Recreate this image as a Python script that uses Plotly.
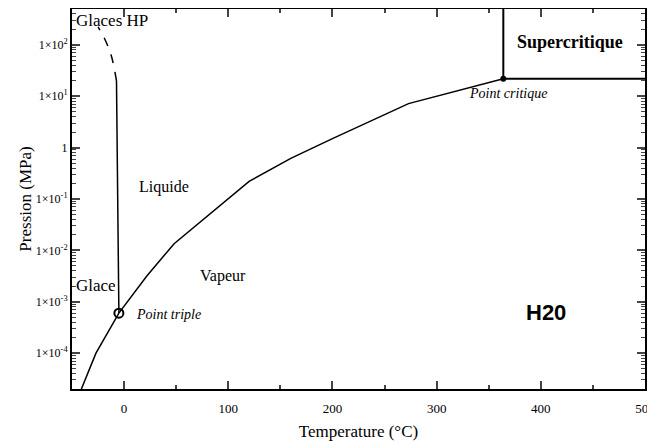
import plotly.graph_objects as go
import numpy as np

# Sublimation + vaporisation curve (°C, MPa)
curve_T = [-41, -27, -5, 22, 48, 120, 160, 200, 273, 364]
curve_P = [2e-5, 1e-4, 6e-4, 3.2e-3, 1.35e-2, 0.22, 0.62, 1.5, 7.2, 22]

# Melting line (solid) and high-pressure ices (dashed)
melt_T = [-5, -7.3]
melt_P = [6e-4, 20]
hp_T = [-7.3, -12.4, -18.8, -25]
hp_P = [20, 63, 133, 225]

# Supercritical box
super_v_T = [364, 364]
super_v_P = [22, 500]
super_h_T = [364, 500]
super_h_P = [22, 22]

triple_T, triple_P = [-5], [6e-4]
crit_T, crit_P = [364], [22]

ytick_vals = [1e-4, 1e-3, 1e-2, 1e-1, 1, 1e1, 1e2]
ytick_text = ["1×10<sup>-4</sup>", "1×10<sup>-3</sup>", "1×10<sup>-2</sup>",
              "1×10<sup>-1</sup>", "1", "1×10<sup>1</sup>", "1×10<sup>2</sup>"]
yminor_vals = [m * 10.0 ** e for e in range(-5, 3) for m in range(2, 10)]
xtick_vals = [0, 100, 200, 300, 400, 500]
xminor_vals = [-50, 50, 150, 250, 350, 450]

SERIF = "Liberation Serif, DejaVu Serif, serif"
line = dict(color="black", width=1.5)
YR = [np.log10(2e-5), np.log10(500)]
XR = [-50, 500]

fig = go.Figure()
fig.add_trace(go.Scatter(x=curve_T, y=curve_P, mode="lines", line=line))
fig.add_trace(go.Scatter(x=melt_T, y=melt_P, mode="lines", line=line))
fig.add_trace(go.Scatter(x=hp_T, y=hp_P, mode="lines",
                         line=dict(color="black", width=1.5, dash="dash", shape="spline")))
fig.add_trace(go.Scatter(x=super_v_T, y=super_v_P, mode="lines", line=dict(color="black", width=2)))
fig.add_trace(go.Scatter(x=super_h_T, y=super_h_P, mode="lines", line=dict(color="black", width=2)))
fig.add_trace(go.Scatter(x=triple_T, y=triple_P, mode="markers",
                         marker=dict(symbol="circle-open", size=9, color="black", line=dict(width=2))))
fig.add_trace(go.Scatter(x=crit_T, y=crit_P, mode="markers",
                         marker=dict(symbol="circle", size=6, color="black")))

def ann(text, x, y, size=14, anchor="center", bold=False, italic=False, family=SERIF):
    if bold:
        text = "<b>" + text + "</b>"
    if italic:
        text = "<i>" + text + "</i>"
    fig.add_annotation(x=x, y=y, xref="x", yref="y", text=text, showarrow=False,
                       xanchor=anchor, yanchor="middle",
                       font=dict(family=family, size=size, color="black"))

ann("Glaces HP", -48, 2.476, size=17, anchor="left")
ann("Liquide", 38, -0.76, size=16)
ann("Vapeur", 95, -2.495, size=16)
ann("Glace", -48.5, -2.69, size=17, anchor="left")
ann("Point triple", 9.5, -3.24, size=14, anchor="left", italic=True)
ann("Point critique", 368.6, 1.05, size=14, italic=True)
ann("Supercritique", 427.6, 2.05, size=18, bold=True)
ann("H20", 404.8, -3.2, size=22, bold=True, family="Liberation Sans")

# the page body has an 8px margin, so the figure is sized to fit the 655x441 window
fig.update_layout(
    width=647, height=433,
    margin=dict(l=64, r=10, t=1, b=52),
    paper_bgcolor="white", plot_bgcolor="white",
    showlegend=False,
    font=dict(family=SERIF, color="black"),
    xaxis=dict(
        range=XR, tickvals=xtick_vals, ticks="inside", ticklen=8, tickwidth=2,
        showline=True, linecolor="black", linewidth=2, mirror="allticks",
        showgrid=False, zeroline=False, automargin=False,
        ticklabelstandoff=6,
        tickfont=dict(family=SERIF, size=13),
        title=dict(text="Temperature (°C)", font=dict(family=SERIF, size=17), standoff=12),
    ),
    xaxis2=dict(
        range=XR, tickvals=xminor_vals, ticks="inside", ticklen=4, tickwidth=1.5,
        showline=True, linecolor="black", linewidth=2, mirror="allticks",
        showticklabels=False, showgrid=False, zeroline=False, automargin=False,
        overlaying="x", side="bottom", anchor="y",
    ),
    yaxis=dict(
        type="log", range=YR, tickvals=ytick_vals, ticktext=ytick_text,
        ticks="inside", ticklen=8, tickwidth=2,
        showline=True, linecolor="black", linewidth=2, mirror="allticks",
        showgrid=False, zeroline=False, automargin=False,
        tickfont=dict(family=SERIF, size=12),
        title=dict(text="Pression (MPa)", font=dict(family=SERIF, size=17), standoff=0),
    ),
    yaxis2=dict(
        type="log", range=YR, tickvals=yminor_vals,
        ticks="inside", ticklen=4, tickwidth=1,
        showline=True, linecolor="black", linewidth=2, mirror="allticks",
        showticklabels=False, showgrid=False, zeroline=False, automargin=False,
        overlaying="y", side="left", anchor="x",
    ),
)
# invisible trace to activate the minor-tick axes
fig.add_trace(go.Scatter(x=[None], y=[None], xaxis="x2", yaxis="y2", showlegend=False,
                         hoverinfo="skip"))

fig.write_html("out.html")
